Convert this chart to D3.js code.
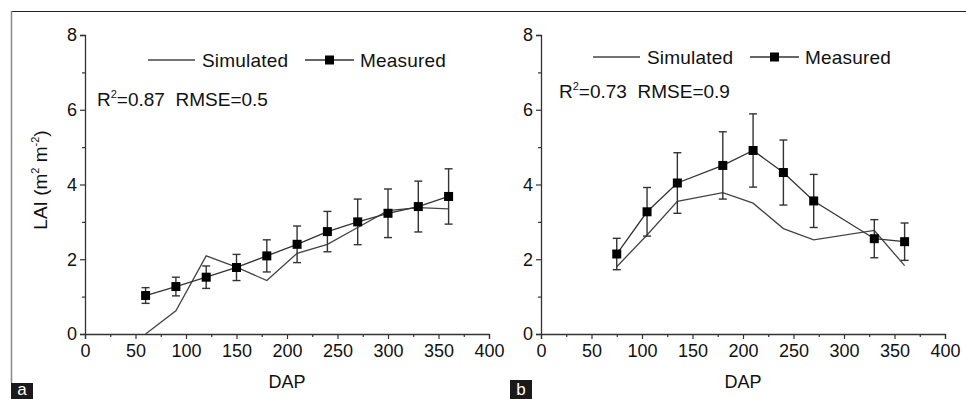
<!DOCTYPE html>
<html>
<head>
<meta charset="utf-8">
<script src="https://cdn.jsdelivr.net/npm/d3@7"></script>
<style>
  body { margin: 0; background: #fff; }
  svg { display: block; font-family: "Liberation Sans", Arial, sans-serif; }
  text { white-space: pre; }
</style>
</head>
<body>
<div id="chart"></div>
<script>
// panel a
const dapA = [60, 90, 120, 150, 180, 210, 240, 270, 300, 330, 360];
const simA = [0.0, 0.62, 2.09, 1.79, 1.43, 2.16, 2.40, 2.85, 3.30, 3.38, 3.35];
const measA = [1.03, 1.27, 1.52, 1.78, 2.09, 2.40, 2.74, 3.00, 3.23, 3.41, 3.68];
const errA = [0.21, 0.25, 0.30, 0.35, 0.43, 0.49, 0.54, 0.61, 0.65, 0.68, 0.74];

// panel b
const dapB = [75, 105, 135, 180, 210, 240, 270, 330, 360];
const simB = [1.80, 2.65, 3.55, 3.78, 3.50, 2.82, 2.52, 2.77, 1.83];
const measB = [2.14, 3.27, 4.04, 4.51, 4.91, 4.32, 3.56, 2.55, 2.47];
const errB = [0.42, 0.65, 0.81, 0.90, 0.98, 0.87, 0.71, 0.51, 0.50];

const xTicks = [0, 50, 100, 150, 200, 250, 300, 350, 400];
const yTicks = [0, 2, 4, 6, 8];

const width = 966;
const height = 399;

const svg = d3.select("#chart")
    .append("svg")
    .attr("width", width)
    .attr("height", height);

// frame round the figure
svg.append("line")
    .attr("x1", 11).attr("x2", width).attr("y1", 11.5).attr("y2", 11.5)
    .attr("stroke", "#222").attr("stroke-width", 1.2);
svg.append("line")
    .attr("x1", 11.5).attr("x2", 11.5).attr("y1", 11).attr("y2", 383)
    .attr("stroke", "#888").attr("stroke-width", 1.5);

function drawPanel(opts) {
    const x = d3.scaleLinear().domain([0, 400]).range([opts.left, opts.right]);
    const y = d3.scaleLinear().domain([0, 8]).range([334, 35]);
    const g = svg.append("g");

    // x axis
    g.append("g")
        .attr("transform", `translate(0,${y(0)})`)
        .call(d3.axisBottom(x).tickValues(xTicks).tickSize(5).tickPadding(5));
    g.append("g")
        .attr("transform", `translate(0,${y(0)})`)
        .call(d3.axisBottom(x).tickValues(d3.range(25, 400, 50)).tickSize(3).tickFormat(""))
        .select(".domain").remove();

    // y axis
    g.append("g")
        .attr("transform", `translate(${x(0)},0)`)
        .call(d3.axisLeft(y).tickValues(yTicks).tickSize(5).tickPadding(3));
    g.append("g")
        .attr("transform", `translate(${x(0)},0)`)
        .call(d3.axisLeft(y).tickValues([1, 3, 5, 7]).tickSize(3).tickFormat(""))
        .select(".domain").remove();

    g.selectAll(".domain").attr("stroke", "#333").attr("stroke-width", 1.3);
    g.selectAll(".tick line").attr("stroke", "#333").attr("stroke-width", 1.2);
    g.selectAll(".tick text")
        .attr("font-size", 18)
        .attr("fill", "#111")
        .attr("font-family", "'Liberation Sans', Arial, sans-serif");

    // simulated
    const line = d3.line().x(d => x(d[0])).y(d => y(d[1]));
    g.append("path")
        .datum(opts.dap.map((d, i) => [d, opts.sim[i]]))
        .attr("d", line)
        .attr("fill", "none")
        .attr("stroke", "#444")
        .attr("stroke-width", 1.3);

    // measured line
    const meas = opts.dap.map((d, i) => ({ x: d, y: opts.meas[i], e: opts.err[i] }));
    g.append("path")
        .datum(meas)
        .attr("d", d3.line().x(d => x(d.x)).y(d => y(d.y)))
        .attr("fill", "none")
        .attr("stroke", "#333")
        .attr("stroke-width", 1.3);

    // error bars
    const eb = g.append("g").selectAll("g").data(meas).enter().append("g")
        .attr("stroke", "#333").attr("stroke-width", 1.4);
    eb.append("line")
        .attr("x1", d => x(d.x)).attr("x2", d => x(d.x))
        .attr("y1", d => y(d.y + d.e)).attr("y2", d => y(d.y - d.e));
    eb.append("line")
        .attr("x1", d => x(d.x) - 4).attr("x2", d => x(d.x) + 4)
        .attr("y1", d => y(d.y + d.e)).attr("y2", d => y(d.y + d.e));
    eb.append("line")
        .attr("x1", d => x(d.x) - 4).attr("x2", d => x(d.x) + 4)
        .attr("y1", d => y(d.y - d.e)).attr("y2", d => y(d.y - d.e));

    g.append("g").selectAll("rect").data(meas).enter().append("rect")
        .attr("x", d => x(d.x) - 4.5).attr("y", d => y(d.y) - 4.5)
        .attr("width", 9).attr("height", 9)
        .attr("fill", "#000");

    // legend
    const lx = opts.legendX, ly = opts.legendY;
    g.append("line")
        .attr("x1", lx).attr("x2", lx + 47).attr("y1", ly).attr("y2", ly)
        .attr("stroke", "#444").attr("stroke-width", 1.3);
    g.append("text")
        .attr("x", lx + 54).attr("y", ly + 7)
        .attr("font-size", 19).attr("letter-spacing", 0.2).attr("fill", "#111")
        .text("Simulated");
    g.append("line")
        .attr("x1", lx + 157).attr("x2", lx + 206).attr("y1", ly).attr("y2", ly)
        .attr("stroke", "#333").attr("stroke-width", 1.3);
    g.append("rect")
        .attr("x", lx + 177).attr("y", ly - 4.5)
        .attr("width", 9).attr("height", 9).attr("fill", "#000");
    g.append("text")
        .attr("x", lx + 212).attr("y", ly + 7)
        .attr("font-size", 19).attr("letter-spacing", 0.2).attr("fill", "#111")
        .text("Measured");

    // stats
    const st = g.append("text")
        .attr("x", opts.statX).attr("y", opts.statY)
        .attr("font-size", 19).attr("fill", "#111");
    st.append("tspan").text("R");
    st.append("tspan").attr("font-size", 11).attr("dy", -8).text("2");
    st.append("tspan").attr("dy", 8).text(opts.stat);

    // x label
    g.append("text")
        .attr("x", (opts.left + opts.right) / 2).attr("y", 388)
        .attr("text-anchor", "middle")
        .attr("font-size", 18).attr("fill", "#111")
        .text("DAP");

    // panel letter
    g.append("rect")
        .attr("x", opts.boxX).attr("y", opts.boxY)
        .attr("width", 22).attr("height", height - opts.boxY)
        .attr("fill", "#1a1a1a");
    g.append("text")
        .attr("x", opts.boxX + 11).attr("y", height - 4)
        .attr("text-anchor", "middle")
        .attr("font-size", 17).attr("fill", "#fff")
        .text(opts.letter);
}

drawPanel({
    left: 85, right: 489,
    dap: dapA, sim: simA, meas: measA, err: errA,
    legendX: 148, legendY: 60,
    statX: 97, statY: 106, stat: "=0.87  RMSE=0.5",
    boxX: 11, boxY: 383, letter: "a"
});

drawPanel({
    left: 541, right: 945,
    dap: dapB, sim: simB, meas: measB, err: errB,
    legendX: 593, legendY: 57,
    statX: 559, statY: 98, stat: "=0.73  RMSE=0.9",
    boxX: 510, boxY: 380, letter: "b"
});

// y label (left panel only)
const yl = svg.append("text")
    .attr("transform", "translate(47,180) rotate(-90)")
    .attr("text-anchor", "middle")
    .attr("font-size", 19).attr("fill", "#111");
yl.append("tspan").text("LAI (m");
yl.append("tspan").attr("font-size", 11).attr("dy", -8).text("2");
yl.append("tspan").attr("dy", 8).text(" m");
yl.append("tspan").attr("font-size", 11).attr("dy", -8).text("-2");
yl.append("tspan").attr("dy", 8).text(")");
</script>
</body>
</html>
